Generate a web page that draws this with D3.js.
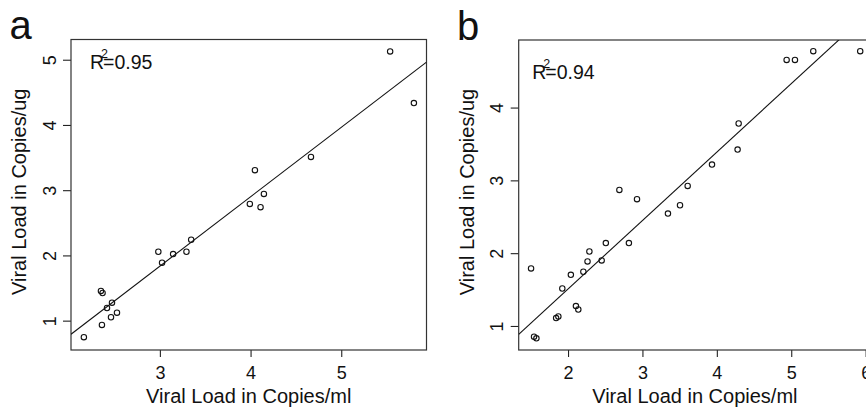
<!DOCTYPE html>
<html>
<head>
<meta charset="utf-8">
<script src="https://cdn.jsdelivr.net/npm/d3@7"></script>
<style>
  html, body { margin: 0; padding: 0; background: #fff; }
  svg { display: block; }
  text { font-family: "Liberation Sans", Arial, Helvetica, sans-serif; fill: #111; }
</style>
</head>
<body>
<svg id="chart" width="866" height="408"></svg>
<script>
// ---------- Data ----------
// Panel a
const aX = [2.162, 2.361, 2.350, 2.368, 2.417, 2.472, 2.461, 2.527, 2.983, 3.024,
            3.146, 3.293, 3.345, 3.992, 4.048, 4.110, 4.147, 4.666, 5.539, 5.801];
const aY = [0.746, 0.934, 1.455, 1.424, 1.194, 1.275, 1.052, 1.122, 2.056, 1.888,
            2.021, 2.056, 2.240, 2.790, 3.306, 2.740, 2.943, 3.510, 5.127, 4.336];
const aFit = [-1.357, 1.064];            // intercept, slope
const aXTicks = [3, 4, 5];
const aYTicks = [1, 2, 3, 4, 5];
const aR2 = "0.95";

// Panel b
const bX = [1.503, 1.543, 1.575, 1.840, 1.870, 1.923, 2.038, 2.106, 2.138, 2.206,
            2.262, 2.287, 2.452, 2.508, 2.690, 2.818, 2.927, 3.343, 3.505, 3.608,
            3.935, 4.279, 4.293, 4.938, 5.050, 5.296, 5.927];
const bY = [1.790, 0.853, 0.831, 1.108, 1.130, 1.515, 1.702, 1.274, 1.226, 1.745,
            1.886, 2.023, 1.900, 2.138, 2.869, 2.138, 2.741, 2.544, 2.658, 2.924,
            3.217, 3.423, 3.781, 4.655, 4.655, 4.775, 4.775];
const bFit = [-0.3715, 0.9398];
const bXTicks = [2, 3, 4, 5, 6];
const bYTicks = [1, 2, 3, 4];
const bR2 = "0.94";

const xTitle = "Viral Load in Copies/ml";
const yTitle = "Viral Load in Copies/ug";
const panelLabels = ["a", "b"];

// ---------- Drawing ----------
const svg = d3.select("#chart");

const panels = [
  { label: panelLabels[0], xs: aX, ys: aY, fit: aFit, xt: aXTicks, yt: aYTicks, r2: aR2,
    box: { l: 71, r: 426.5, t: 39.5, b: 350 }, xd: [2.02, 5.94], yd: [0.55, 5.31],
    lab: { x: 9.5, y: 39 }, r2pos: { dx: 19, dy: 29 } },
  { label: panelLabels[1], xs: bX, ys: bY, fit: bFit, xt: bXTicks, yt: bYTicks, r2: bR2,
    box: { l: 518.7, r: 871, t: 40, b: 350 }, xd: [1.337, 6.072], yd: [0.67, 4.928],
    lab: { x: 457, y: 40 }, r2pos: { dx: 13.5, dy: 39 } }
];

panels.forEach((p, i) => {
  const g = svg.append("g");
  const x = d3.scaleLinear().domain(p.xd).range([p.box.l, p.box.r]);
  const y = d3.scaleLinear().domain(p.yd).range([p.box.b, p.box.t]);

  const clipId = "clip" + i;
  svg.append("clipPath").attr("id", clipId)
    .append("rect").attr("x", p.box.l).attr("y", p.box.t)
    .attr("width", p.box.r - p.box.l).attr("height", p.box.b - p.box.t);

  // x axis
  const xAxis = d3.axisBottom(x).tickValues(p.xt).tickSize(7).tickPadding(9)
    .tickFormat(d3.format("d"));
  const gx = g.append("g").attr("transform", `translate(0,${p.box.b})`).call(xAxis);
  gx.select(".domain").remove();
  gx.selectAll(".tick line").attr("stroke", "#222").attr("stroke-width", 1.1);
  gx.selectAll(".tick text").attr("font-size", 18).attr("fill", "#111")
    .attr("font-family", '"Liberation Sans", Arial, sans-serif');

  // y axis
  const yAxis = d3.axisLeft(y).tickValues(p.yt).tickSize(8).tickPadding(0)
    .tickFormat(d3.format("d"));
  const gy = g.append("g").attr("transform", `translate(${p.box.l},0)`).call(yAxis);
  gy.select(".domain").remove();
  gy.selectAll(".tick line").attr("stroke", "#222").attr("stroke-width", 1.1);
  gy.selectAll(".tick text")
    .attr("font-size", 18).attr("fill", "#111")
    .attr("font-family", '"Liberation Sans", Arial, sans-serif')
    .attr("x", null).attr("dy", null)
    .attr("text-anchor", "middle")
    .attr("transform", "translate(-15.5,0) rotate(-90)");

  // frame
  g.append("rect")
    .attr("x", p.box.l).attr("y", p.box.t)
    .attr("width", p.box.r - p.box.l).attr("height", p.box.b - p.box.t)
    .attr("fill", "none").attr("stroke", "#333").attr("stroke-width", 1.2);

  // regression line
  const x0 = p.xd[0], x1 = p.xd[1];
  g.append("line")
    .attr("clip-path", `url(#${clipId})`)
    .attr("x1", x(x0)).attr("y1", y(p.fit[0] + p.fit[1] * x0))
    .attr("x2", x(x1)).attr("y2", y(p.fit[0] + p.fit[1] * x1))
    .attr("stroke", "#111").attr("stroke-width", 1.1);

  // points
  const pts = p.xs.map((v, k) => [v, p.ys[k]]);
  g.append("g").selectAll("circle").data(pts).join("circle")
    .attr("cx", d => x(d[0])).attr("cy", d => y(d[1]))
    .attr("r", 2.7).attr("fill", "none").attr("stroke", "#111").attr("stroke-width", 1.1);

  // R^2 label
  const rx = p.box.l + p.r2pos.dx, ry = p.box.t + p.r2pos.dy;
  const rT = g.append("text").attr("x", rx).attr("y", ry).attr("font-size", 19.5).text("R");
  const rw = rT.node().getComputedTextLength();
  g.append("text").attr("x", rx + rw - 3).attr("y", ry - 11).attr("font-size", 12.5).text("2");
  g.append("text").attr("x", rx + rw - 1).attr("y", ry).attr("font-size", 19.5).text("=" + p.r2);

  // axis titles
  g.append("text")
    .attr("x", (p.box.l + p.box.r) / 2).attr("y", 403)
    .attr("text-anchor", "middle").attr("font-size", 20).text(xTitle);
  g.append("text")
    .attr("transform", `translate(${p.box.l - 45},${(p.box.t + p.box.b) / 2 - 3}) rotate(-90)`)
    .attr("text-anchor", "middle").attr("font-size", 20).text(yTitle);

  // panel label
  g.append("text").attr("x", p.lab.x).attr("y", p.lab.y)
    .attr("font-size", 40).text(p.label);
});
</script>
</body>
</html>
